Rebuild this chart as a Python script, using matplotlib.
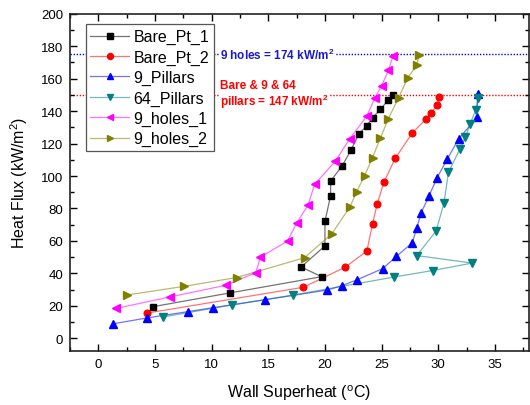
import numpy as np
import matplotlib
matplotlib.use("Agg")
import matplotlib.pyplot as plt
from matplotlib.lines import Line2D

plt.rcParams['font.family'] = ['Liberation Sans', 'DejaVu Sans']
plt.rcParams['mathtext.default'] = 'regular'

# data
bare1_x = [4.8, 11.6, 19.7, 17.9, 20.0, 20.0, 20.5, 20.5, 21.5, 22.3, 23.0, 23.7, 24.2, 24.9, 25.6, 26.0]
bare1_y = [19.5, 28, 38, 44, 57, 72, 88, 97, 106, 116, 126, 131, 136, 141, 147, 150]

bare2_x = [4.3, 18.1, 21.8, 23.7, 24.2, 24.6, 25.2, 26.2, 27.7, 28.9, 29.4, 29.9, 30.1]
bare2_y = [15.6, 31.5, 43.9, 53.8, 70.5, 82.6, 96.2, 110.8, 126.5, 134.9, 139.1, 143.8, 148.5]

pil9_x = [1.3, 4.3, 7.9, 10.1, 14.7, 20.2, 21.5, 22.8, 25.1, 26.3, 27.7, 28.1, 28.5, 29.2, 29.9, 30.8, 31.8, 33.4, 33.5]
pil9_y = [9, 12.6, 16.5, 18.9, 23.8, 29.8, 32.5, 36, 43, 50.5, 58.8, 67.9, 77.5, 88, 99, 110.5, 122.8, 136.1, 150.2]

pil64_x = [5.7, 11.8, 17.2, 26.1, 29.5, 33.0, 28.1, 29.8, 30.5, 30.9, 31.9, 32.4, 32.8, 33.3, 33.5]
pil64_y = [13.2, 20.6, 26.7, 37.8, 41.8, 46.4, 51, 66, 83.3, 102.3, 116.6, 124, 132, 140.5, 148.2]

holes1_x = [1.6, 6.3, 11.3, 13.9, 14.3, 16.7, 17.5, 18.5, 19.1, 20.9, 22.2, 23.7, 24.4, 25.0, 25.6, 26.0]
holes1_y = [18.5, 25.5, 32.8, 40.5, 50, 60, 71, 82, 95, 109, 123, 137, 148, 155.6, 165, 174]

holes2_x = [2.5, 7.6, 12.2, 18.2, 20.6, 22.2, 22.8, 23.5, 24.2, 24.9, 25.6, 26.5, 27.3, 28.1, 28.3]
holes2_y = [26.7, 32.1, 37.5, 49.7, 64.4, 80.9, 90.4, 100.2, 111.4, 123.5, 135.4, 148.2, 160.3, 168.3, 174.8]

chf_holes = 175
chf_bare = 150

series = [
    ('Bare_Pt_1', bare1_x, bare1_y, 'black', 's', 4.3),
    ('Bare_Pt_2', bare2_x, bare2_y, 'red', 'o', 4.8),
    ('9_Pillars', pil9_x, pil9_y, 'blue', '^', 5.5),
    ('64_Pillars', pil64_x, pil64_y, '#008080', 'v', 5.5),
    ('9_holes_1', holes1_x, holes1_y, 'magenta', '<', 5.5),
    ('9_holes_2', holes2_x, holes2_y, '#808000', '>', 5.5),
]

fig = plt.figure(figsize=(5.3, 4.06), dpi=100)
ax = fig.add_axes([0.132, 0.134, 0.866, 0.830])

ax.axhline(chf_holes, color='blue', ls=(0, (1, 1.2)), lw=1.0, zorder=1)
ax.axhline(chf_bare, color='red', ls=(0, (1, 1.2)), lw=1.0, zorder=1)

for name, xs, ys, col, mk, ms in series:
    ax.plot(xs, ys, color=col, alpha=0.55, lw=0.9, zorder=2)
    ax.plot(xs, ys, ls='none', marker=mk, color=col, ms=ms, mec=col, zorder=3)

# legend proxies: light line + solid marker
handles = []
for name, xs, ys, col, mk, ms in series:
    handles.append((Line2D([], [], color=col, alpha=0.55, lw=0.9),
                    Line2D([], [], ls='none', marker=mk, color=col, ms=ms - 0.5)))
leg = ax.legend(handles, [s[0] for s in series], loc='upper left',
                bbox_to_anchor=(0.034, 0.968), fontsize=11.5, frameon=True,
                fancybox=False, edgecolor='#555555', framealpha=1,
                handlelength=2.4, handletextpad=0.3, labelspacing=0.33,
                borderpad=0.3, borderaxespad=0)
leg.get_frame().set_linewidth(0.9)
leg.set_zorder(5)

ax.text(0.327, chf_holes, '9 holes = 174 kW/m$^2$', transform=ax.get_yaxis_transform(),
        color='#1a1acc', fontsize=8.5, fontweight='bold', va='center', ha='left',
        bbox=dict(facecolor='white', edgecolor='none', pad=0.5), zorder=6)
ax.text(0.327, chf_bare, 'Bare & 9 & 64\npillars = 147 kW/m$^2$', transform=ax.get_yaxis_transform(),
        color='red', fontsize=8.5, fontweight='bold', va='center', ha='left',
        linespacing=1.05, bbox=dict(facecolor='white', edgecolor='none', pad=0.5), zorder=6)

ax.set_xlim(-2.5, 38)
ax.set_ylim(-7.5, 200)
ax.set_xticks(np.arange(0, 36, 5))
ax.set_xticks(np.arange(-2.5, 38, 2.5), minor=True)
ax.set_yticks(np.arange(0, 201, 20))
ax.set_yticks(np.arange(0, 201, 10), minor=True)
ax.tick_params(which='both', direction='in', top=True, right=True, labelsize=9.5, width=1)
ax.tick_params(which='major', length=5, pad=5)
ax.tick_params(which='minor', length=3)
for sp in ax.spines.values():
    sp.set_linewidth(1.2)
    sp.set_color('#222222')

ax.set_xlabel('Wall Superheat ($^{o}$C)', fontsize=11.5, labelpad=9)
ax.set_ylabel('Heat Flux (kW/m$^{2}$)', fontsize=11.5, labelpad=8)

fig.savefig('out.png', dpi=100)
